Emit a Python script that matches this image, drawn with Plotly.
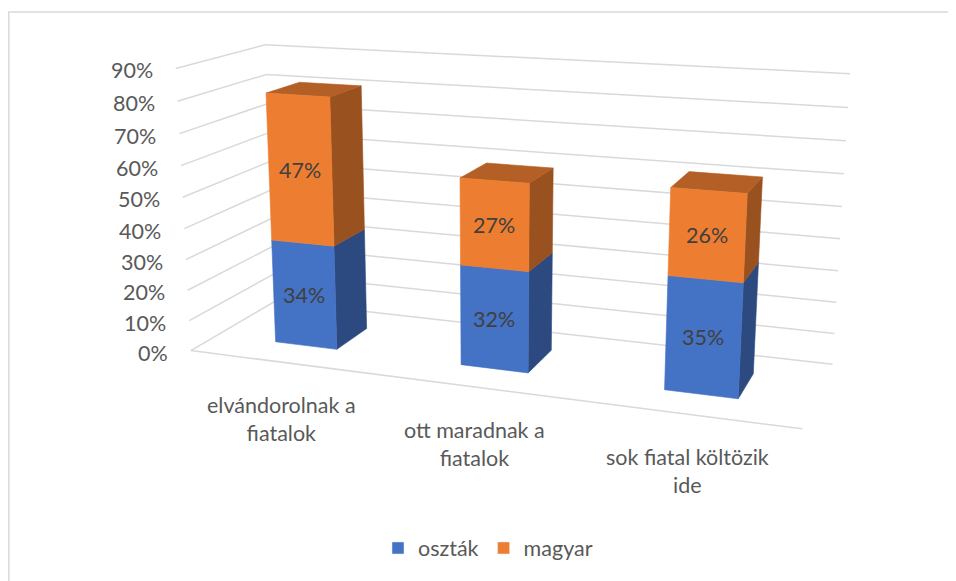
import numpy as np
import plotly.graph_objects as go

# ---------------- data ----------------
categories = ["elvándorolnak a<br>fiatalok", "ott maradnak a<br>fiatalok", "sok fiatal költözik<br>ide"]
series_names = ["oszták", "magyar"]
osztak = [0.34, 0.32, 0.35]
magyar = [0.47, 0.27, 0.26]
tick_values = [0.0, 0.1, 0.2, 0.3, 0.4, 0.5, 0.6, 0.7, 0.8, 0.9]
tick_labels = ["0%", "10%", "20%", "30%", "40%", "50%", "60%", "70%", "80%", "90%"]

# ---------------- layout / styling ----------------
W, H = 956, 581
OFF = 8               # page offset of the figure (body margin)
Y_MAX = 0.9
N = len(categories)
BAR_W = 0.34          # bar width in category units
Z_FRONT, Z_BACK = 0.30, 0.70   # bar depth within the floor (0 = front, 1 = back)
FONT = "Lato"
FS = 21.5
TXT = "#595959"
GRID = "#D9D9D9"
front_cols = ["#4472C4", "#ED7D31"]
side_cols = ["#2C4A80", "#9A5120"]
top_cols = ["#3A62A8", "#B45F25"]

# perspective camera calibrated on the plot box corners (world -> page pixels)
corner_world = [(0, 0, 0), (0, Y_MAX, 0), (0, 0, 1), (0, Y_MAX, 1),
                (N, 0, 1), (N, Y_MAX, 1), (N, 0, 0)]
corner_px = [(192, 350), (175, 68), (274, 302), (266, 45),
             (833, 363), (850, 74), (802, 430)]


def fit_projection(world, px):
    A = []
    for (X, Y, Z), (u, v) in zip(world, px):
        u = (u - W / 2) / (W / 2)
        v = (v - H / 2) / (W / 2)
        A.append([X, Y, Z, 1, 0, 0, 0, 0, -u * X, -u * Y, -u * Z, -u])
        A.append([0, 0, 0, 0, X, Y, Z, 1, -v * X, -v * Y, -v * Z, -v])
    _, _, vt = np.linalg.svd(np.array(A, float))
    return vt[-1].reshape(3, 4)


P = fit_projection(corner_world, corner_px)


def proj(X, Y, Z):
    h = P @ np.array([X, Y, Z, 1.0])
    u, v = h[0] / h[2], h[1] / h[2]
    return u * W / 2 + W / 2, v * W / 2 + H / 2


def poly(pts):
    xs, ys = [], []
    for p in pts:
        x, y = proj(*p)
        xs.append(x)
        ys.append(y)
    xs.append(xs[0])
    ys.append(ys[0])
    return xs, ys


fig = go.Figure()

# ---------- walls / gridlines ----------
gx, gy = [], []
for t in tick_values:
    for a, b in [((0, t, 0), (0, t, 1)), ((0, t, 1), (N, t, 1))]:
        x0, y0 = proj(*a)
        x1, y1 = proj(*b)
        gx += [x0, x1, None]
        gy += [y0, y1, None]
# floor front edge
x0, y0 = proj(0, 0, 0)
x1, y1 = proj(N, 0, 0)
gx += [x0, x1, None]
gy += [y0, y1, None]
fig.add_trace(go.Scatter(x=gx, y=gy, mode="lines", line=dict(color=GRID, width=1.5),
                         hoverinfo="skip", showlegend=False))

# ---------- 3D stacked columns ----------
series = [osztak, magyar]
annotations = []
for i in range(N):
    xl = i + 0.5 - BAR_W / 2
    xr = i + 0.5 + BAR_W / 2
    base = 0.0
    for s, vals in enumerate(series):
        top = base + vals[i]
        faces = []
        # right side face
        faces.append(([(xr, base, Z_FRONT), (xr, base, Z_BACK), (xr, top, Z_BACK), (xr, top, Z_FRONT)], side_cols[s]))
        if s == len(series) - 1:
            faces.append(([(xl, top, Z_FRONT), (xr, top, Z_FRONT), (xr, top, Z_BACK), (xl, top, Z_BACK)], top_cols[s]))
        faces.append(([(xl, base, Z_FRONT), (xr, base, Z_FRONT), (xr, top, Z_FRONT), (xl, top, Z_FRONT)], front_cols[s]))
        for pts, col in faces:
            xs, ys = poly(pts)
            fig.add_trace(go.Scatter(x=xs, y=ys, mode="lines", fill="toself", fillcolor=col,
                                     line=dict(color=col, width=0.6), hoverinfo="skip",
                                     showlegend=False))
        cx, cy = proj(i + 0.5, (base + top) / 2, Z_FRONT)
        annotations.append(dict(x=cx, y=cy, xref="x", yref="y", text=f"{round(vals[i] * 100)}%",
                                showarrow=False, font=dict(family=FONT, size=FS, color="#404040")))
        base = top

# ---------- axis labels ----------
for t, lab in zip(tick_values, tick_labels):
    x, y = proj(0, t, 0)
    annotations.append(dict(x=x, y=y, xref="x", yref="y", text=lab, showarrow=False,
                            xanchor="right", yanchor="middle", xshift=-21, yshift=-2,
                            font=dict(family=FONT, size=FS, color=TXT)))
for i, cat in enumerate(categories):
    x, y = proj(i + 0.5, 0, 0)
    annotations.append(dict(x=x, y=y, xref="x", yref="y", text=cat, showarrow=False,
                            xanchor="center", yanchor="middle", xshift=0, yshift=-57,
                            font=dict(family=FONT, size=FS, color=TXT)))

# ---------- legend entries ----------
for name, col in zip(series_names, front_cols):
    fig.add_trace(go.Bar(x=[None], y=[None], name=name, marker_color=col))

fig.update_layout(
    width=W, height=H, margin=dict(l=0, r=0, t=0, b=0),
    paper_bgcolor="white", plot_bgcolor="white",
    xaxis=dict(range=[OFF, W + OFF], visible=False, fixedrange=True),
    yaxis=dict(range=[H + OFF, OFF], visible=False, fixedrange=True),
    annotations=annotations,
    shapes=[dict(type="rect", xref="x", yref="y", x0=OFF + 0.8, y0=12, x1=W + 50, y1=H + 50,
                 line=dict(color=GRID, width=1.5))],
    legend=dict(orientation="h", x=(488 - OFF) / W, xanchor="center",
                y=1 - (548 - OFF) / H, yanchor="middle",
                font=dict(family=FONT, size=FS, color=TXT), itemwidth=30,
                bgcolor="rgba(0,0,0,0)"),
    showlegend=True,
)

fig.write_html("out.html")
